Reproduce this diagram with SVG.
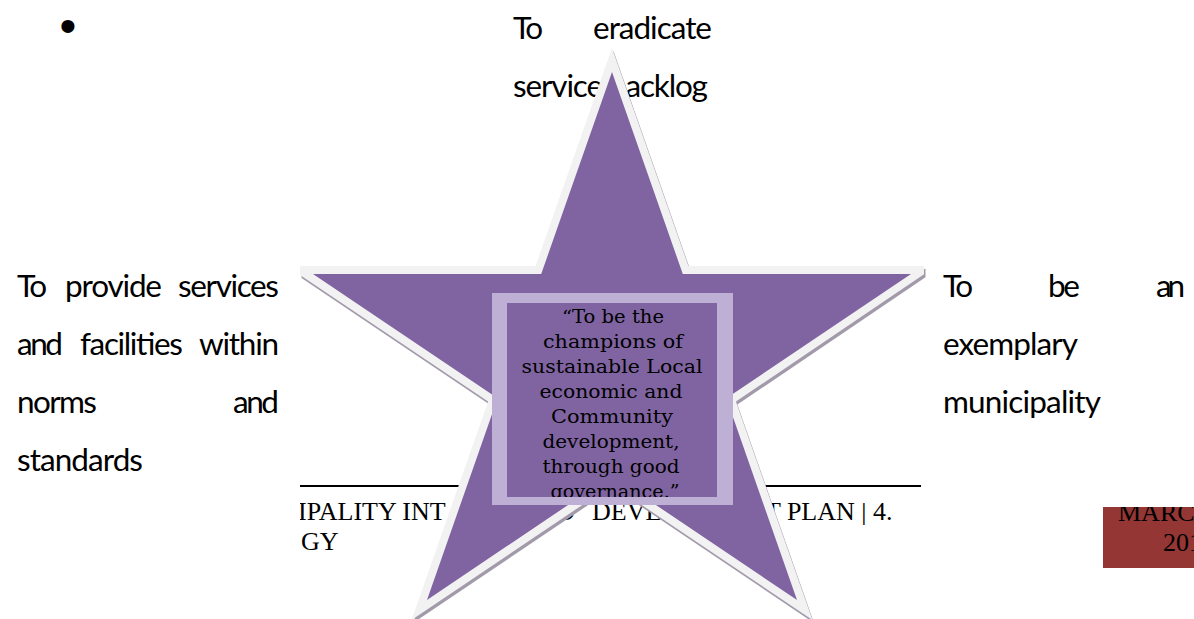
<svg xmlns="http://www.w3.org/2000/svg" width="1194" height="619" viewBox="0 0 1194 619">
  <style>
    .goal { font-family: Lato, "Open Sans", "Liberation Sans", sans-serif; font-size: 31.5px; fill: #000; }
    .foot { font-family: "Liberation Serif", "Times New Roman", serif; font-size: 26px; fill: #000; }
    .vision { font-family: "DejaVu Serif", "Liberation Serif", serif; font-size: 18.5px; fill: #000; text-anchor: middle; }
    .edge { fill: #f2f2f2; }
    .shade { fill: #a29aab; }
    .body { fill: #8064a2; }
    .frame { fill: #beb0d4; }
  </style>
  <defs>
    <clipPath id="page-left"><rect x="300" y="480" width="900" height="139"/></clipPath>
    <clipPath id="date-box"><rect x="1103" y="507" width="91" height="61"/></clipPath>
    <clipPath id="vision-box"><rect x="507" y="303" width="210" height="194"/></clipPath>
    <polygon id="star-outline" points="612,47.9 688.4,266 924,266 924,274.2 735.9,401.6 812.5,620 612,485 411.5,620 488.1,401.6 300,274.9 300,266 535.6,266"/>
  </defs>

  <rect width="1194" height="619" fill="#fff"/>

  <!-- page footer, partly hidden behind the star -->
  <g id="footer">
    <line x1="300" y1="486" x2="921" y2="486" stroke="#000" stroke-width="2"/>
    <g clip-path="url(#page-left)">
      <text class="foot" x="298" y="520">IPALITY INT</text>
      <text class="foot" y="520"><tspan x="556">D</tspan><tspan x="592">DEVEL</tspan></text>
      <text class="foot" x="765" y="520">T PLAN | 4.</text>
      <text class="foot" x="301" y="550">GY</text>
    </g>
  </g>

  <!-- goal above the star -->
  <g id="bullet">
    <text x="68" y="42" font-family="'Liberation Sans', Arial, sans-serif" font-size="48" text-anchor="middle">•</text>
  </g>
  <g id="goal-top" class="goal">
    <text x="513" y="39" textLength="30" lengthAdjust="spacing">To</text>
    <text x="593" y="39" textLength="119" lengthAdjust="spacing">eradicate</text>
    <text x="513" y="97" textLength="195" lengthAdjust="spacing">service backlog</text>
  </g>

  <!-- five-pointed star with light rim and soft drop shade -->
  <g id="star">
    <use href="#star-outline" class="shade" transform="translate(1.5,3)"/>
    <use href="#star-outline" class="edge"/>
    <polygon class="body" points="612,72 682.8,274 911,274 726.4,398.3 797,600 612,475.4 427,600 497.6,398.3 313,274 541.2,274"/>
  </g>

  <!-- vision statement panel -->
  <g id="vision">
    <rect class="frame" x="492" y="293" width="241" height="212"/>
    <rect class="body" x="507" y="303" width="210" height="194"/>
    <g clip-path="url(#vision-box)">
      <text class="vision" x="613" y="323" textLength="102" lengthAdjust="spacingAndGlyphs">“To be the</text>
      <text class="vision" x="613" y="348" textLength="140" lengthAdjust="spacingAndGlyphs">champions of</text>
      <text class="vision" x="612" y="373" textLength="181" lengthAdjust="spacingAndGlyphs">sustainable Local</text>
      <text class="vision" x="611" y="398" textLength="143" lengthAdjust="spacingAndGlyphs">economic and</text>
      <text class="vision" x="612" y="423" textLength="122" lengthAdjust="spacingAndGlyphs">Community</text>
      <text class="vision" x="611" y="448" textLength="137" lengthAdjust="spacingAndGlyphs">development,</text>
      <text class="vision" x="611" y="473" textLength="137" lengthAdjust="spacingAndGlyphs">through good</text>
      <text class="vision" x="615" y="498" textLength="129" lengthAdjust="spacingAndGlyphs">governance.”</text>
    </g>
  </g>

  <!-- goal to the left of the star -->
  <g id="goal-left" class="goal">
    <text x="17" y="297" textLength="30" lengthAdjust="spacing">To</text>
    <text x="65" y="297" textLength="97" lengthAdjust="spacing">provide</text>
    <text x="178" y="297" textLength="101" lengthAdjust="spacing">services</text>
    <text x="17" y="355" textLength="46" lengthAdjust="spacing">and</text>
    <text x="80" y="355" textLength="103" lengthAdjust="spacing">facilities</text>
    <text x="199" y="355" textLength="80" lengthAdjust="spacing">within</text>
    <text x="17" y="413" textLength="80" lengthAdjust="spacing">norms</text>
    <text x="233" y="413" textLength="46" lengthAdjust="spacing">and</text>
    <text x="17" y="471" textLength="126" lengthAdjust="spacing">standards</text>
  </g>

  <!-- goal to the right of the star -->
  <g id="goal-right" class="goal">
    <text x="943" y="297" textLength="30" lengthAdjust="spacing">To</text>
    <text x="1048" y="297" textLength="32" lengthAdjust="spacing">be</text>
    <text x="1156" y="297" textLength="29" lengthAdjust="spacing">an</text>
    <text x="943" y="355" textLength="135" lengthAdjust="spacing">exemplary</text>
    <text x="943" y="413" textLength="158" lengthAdjust="spacing">municipality</text>
  </g>

  <!-- date tab in the footer corner -->
  <g id="date-tab">
    <rect x="1103" y="507" width="91" height="61" fill="#943634"/>
    <g clip-path="url(#date-box)">
      <text class="foot" x="1118" y="521">MARC</text>
      <text class="foot" x="1163" y="551">201</text>
    </g>
  </g>
</svg>
